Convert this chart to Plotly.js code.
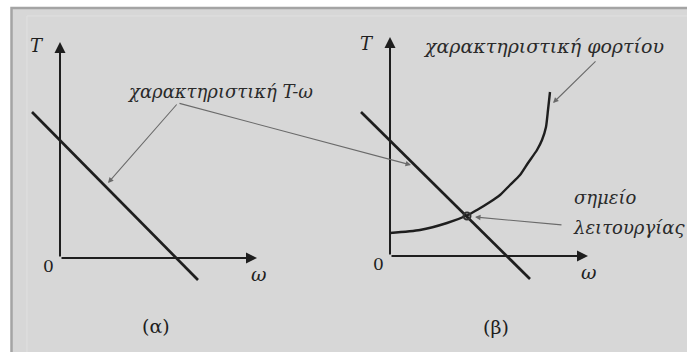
<!DOCTYPE html>
<html>
<head>
<meta charset="utf-8">
<script src="https://cdn.plot.ly/plotly-3.0.1.min.js"></script>
<style>html,body{margin:0;padding:0;background:#fff;}#chart{width:687px;height:352px;}</style>
</head>
<body>
<div id="chart"></div>
<script>
// ---- data (ω, T in arbitrary units, per panel) ----
const omegaMotorA = [-1.4, 6.9];
const torqueMotorA = [7.3, -1.1];
const omegaMotorB = [-1.45, 7.0];
const torqueMotorB = [7.2, -1.15];
const omegaLoad = [0, 1.5, 2.85, 3.9, 4.35, 5.0, 5.5, 6.0, 6.5, 6.9, 7.35, 7.6, 7.8, 7.9, 8.0];
const torqueLoad = [1.15, 1.3, 1.65, 2.05, 2.3, 2.7, 3.05, 3.55, 4.05, 4.65, 5.3, 5.8, 6.45, 7.3, 8.2];
const omegaOperating = [3.85];
const torqueOperating = [2.0];
const axisTipOmega = [9.85, 9.9];
const axisTipTorque = [10.8, 10.95];
const panelLabels = ['(α)', '(β)'];
const motorLabel = 'χαρακτηριστική T-ω';
const loadLabel = 'χαρακτηριστική φορτίου';
const pointLabel1 = 'σημείο';
const pointLabel2 = 'λειτουργίας';

const serif = 'DejaVu Serif, Liberation Serif, serif';
const ink = '#1e1e1e';
const pointer = '#6a6a6a';

const traces = [
  {x: omegaMotorA, y: torqueMotorA, xaxis: 'x', yaxis: 'y', mode: 'lines',
   line: {color: ink, width: 2.7}, hoverinfo: 'skip'},
  {x: omegaMotorB, y: torqueMotorB, xaxis: 'x2', yaxis: 'y2', mode: 'lines',
   line: {color: ink, width: 2.7}, hoverinfo: 'skip'},
  {x: omegaLoad, y: torqueLoad, xaxis: 'x2', yaxis: 'y2', mode: 'lines',
   line: {color: ink, width: 2.4, shape: 'spline', smoothing: 0.6}, hoverinfo: 'skip'},
  {x: omegaOperating, y: torqueOperating, xaxis: 'x2', yaxis: 'y2', mode: 'markers',
   marker: {symbol: 'circle-open', size: 7, color: '#333', line: {width: 2, color: '#333'}}, hoverinfo: 'skip'}
];

const ann = [];
// axes arrows for both panels
[['x','y'],['x2','y2']].forEach(function(r, i){
  ann.push({xref: r[0], yref: r[1], axref: r[0], ayref: r[1], x: 0, y: axisTipTorque[i], ax: 0, ay: 0,
    showarrow: true, arrowhead: 2, arrowsize: 1.1, arrowwidth: 2, arrowcolor: ink, text: '', standoff: 0});
  ann.push({xref: r[0], yref: r[1], axref: r[0], ayref: r[1], x: axisTipOmega[i], y: 0, ax: 0, ay: 0,
    showarrow: true, arrowhead: 2, arrowsize: 1.1, arrowwidth: 2, arrowcolor: ink, text: '', standoff: 0});
  ann.push({xref: r[0], yref: r[1], x: -1.15, y: 10.65, text: '<i>T</i>', showarrow: false,
    font: {family: serif, size: 18, color: ink}});
  ann.push({xref: r[0], yref: r[1], x: -0.6, y: -0.4, text: '0', showarrow: false,
    font: {family: serif, size: 17, color: ink}});
  ann.push({xref: r[0], yref: r[1], x: 9.95, y: -0.8, text: '<i>ω</i>', showarrow: false,
    font: {family: serif, size: 19, color: ink}});
});
ann.push({xref: 'x', yref: 'y', x: 4.8, y: -3.4, text: panelLabels[0], showarrow: false,
  font: {family: serif, size: 19, color: ink}});
ann.push({xref: 'x2', yref: 'y2', x: 5.3, y: -3.55, text: panelLabels[1], showarrow: false,
  font: {family: serif, size: 19, color: ink}});

// labels with pointers
const lblFont = {family: serif, size: 18, color: '#2a2a2a'};
ann.push({xref: 'x', yref: 'y', x: 8.0, y: 8.35, text: '<i>' + motorLabel + '</i>', showarrow: false, font: lblFont});
ann.push({xref: 'x', yref: 'y', axref: 'x', ayref: 'y', x: 2.4, y: 3.75, ax: 5.9, ay: 7.75, text: '',
  showarrow: true, arrowhead: 2, arrowsize: 1, arrowwidth: 1.1, arrowcolor: pointer, standoff: 0});
ann.push({xref: 'x', yref: 'y', axref: 'x', ayref: 'y', x: 17.55, y: 4.65, ax: 5.9, ay: 7.75, text: '',
  showarrow: true, arrowhead: 2, arrowsize: 1, arrowwidth: 1.1, arrowcolor: pointer, standoff: 0});

ann.push({xref: 'x2', yref: 'y2', x: 7.65, y: 10.5, text: '<i>' + loadLabel + '</i>', showarrow: false,
  font: {family: serif, size: 19, color: '#2a2a2a'}});
ann.push({xref: 'x2', yref: 'y2', axref: 'x2', ayref: 'y2', x: 8.15, y: 7.65, ax: 10.35, ay: 9.8, text: '',
  showarrow: true, arrowhead: 2, arrowsize: 1, arrowwidth: 1.1, arrowcolor: pointer, standoff: 0});

ann.push({xref: 'x2', yref: 'y2', x: 9.1, y: 2.95, xanchor: 'left', text: '<i>' + pointLabel1 + '</i>', showarrow: false, font: lblFont});
ann.push({xref: 'x2', yref: 'y2', x: 9.05, y: 1.45, xanchor: 'left', text: '<i>' + pointLabel2 + '</i>', showarrow: false, font: lblFont});
ann.push({xref: 'x2', yref: 'y2', axref: 'x2', ayref: 'y2', x: 4.25, y: 1.95, ax: 8.65, ay: 1.55, text: '',
  showarrow: true, arrowhead: 2, arrowsize: 1, arrowwidth: 1.1, arrowcolor: pointer, standoff: 0});

const hidden = {visible: false, showgrid: false, zeroline: false, fixedrange: true};
const layout = {
  width: 687, height: 352,
  margin: {l: 0, r: 0, t: 0, b: 0},
  paper_bgcolor: '#ffffff',
  plot_bgcolor: 'rgba(0,0,0,0)',
  showlegend: false,
  xaxis: Object.assign({domain: [0, 1], range: [-3, 31.35], anchor: 'y'}, hidden),
  yaxis: Object.assign({domain: [0, 1], range: [-4.7, 12.9], anchor: 'x'}, hidden),
  xaxis2: Object.assign({domain: [0, 1], range: [-19.5, 14.85], anchor: 'y2'}, hidden),
  yaxis2: Object.assign({domain: [0, 1], range: [-4.8, 12.8], anchor: 'x2'}, hidden),
  shapes: [
    {type: 'rect', xref: 'paper', yref: 'paper', x0: 11.5/687, x1: 1.02, y0: -0.02, y1: 1 - 8/352,
     fillcolor: '#d7d7d7', line: {color: '#a4a4a4', width: 2.5}, layer: 'below'},
    {type: 'rect', xref: 'paper', yref: 'paper', x0: 27/687, x1: 1.02, y0: -0.02, y1: 1 - 16/352,
     fillcolor: 'rgba(0,0,0,0)', line: {color: '#e0e0e0', width: 1}, layer: 'below'}
  ],
  annotations: ann
};

Plotly.newPlot('chart', traces, layout, {staticPlot: true, displayModeBar: false});
</script>
</body>
</html>
